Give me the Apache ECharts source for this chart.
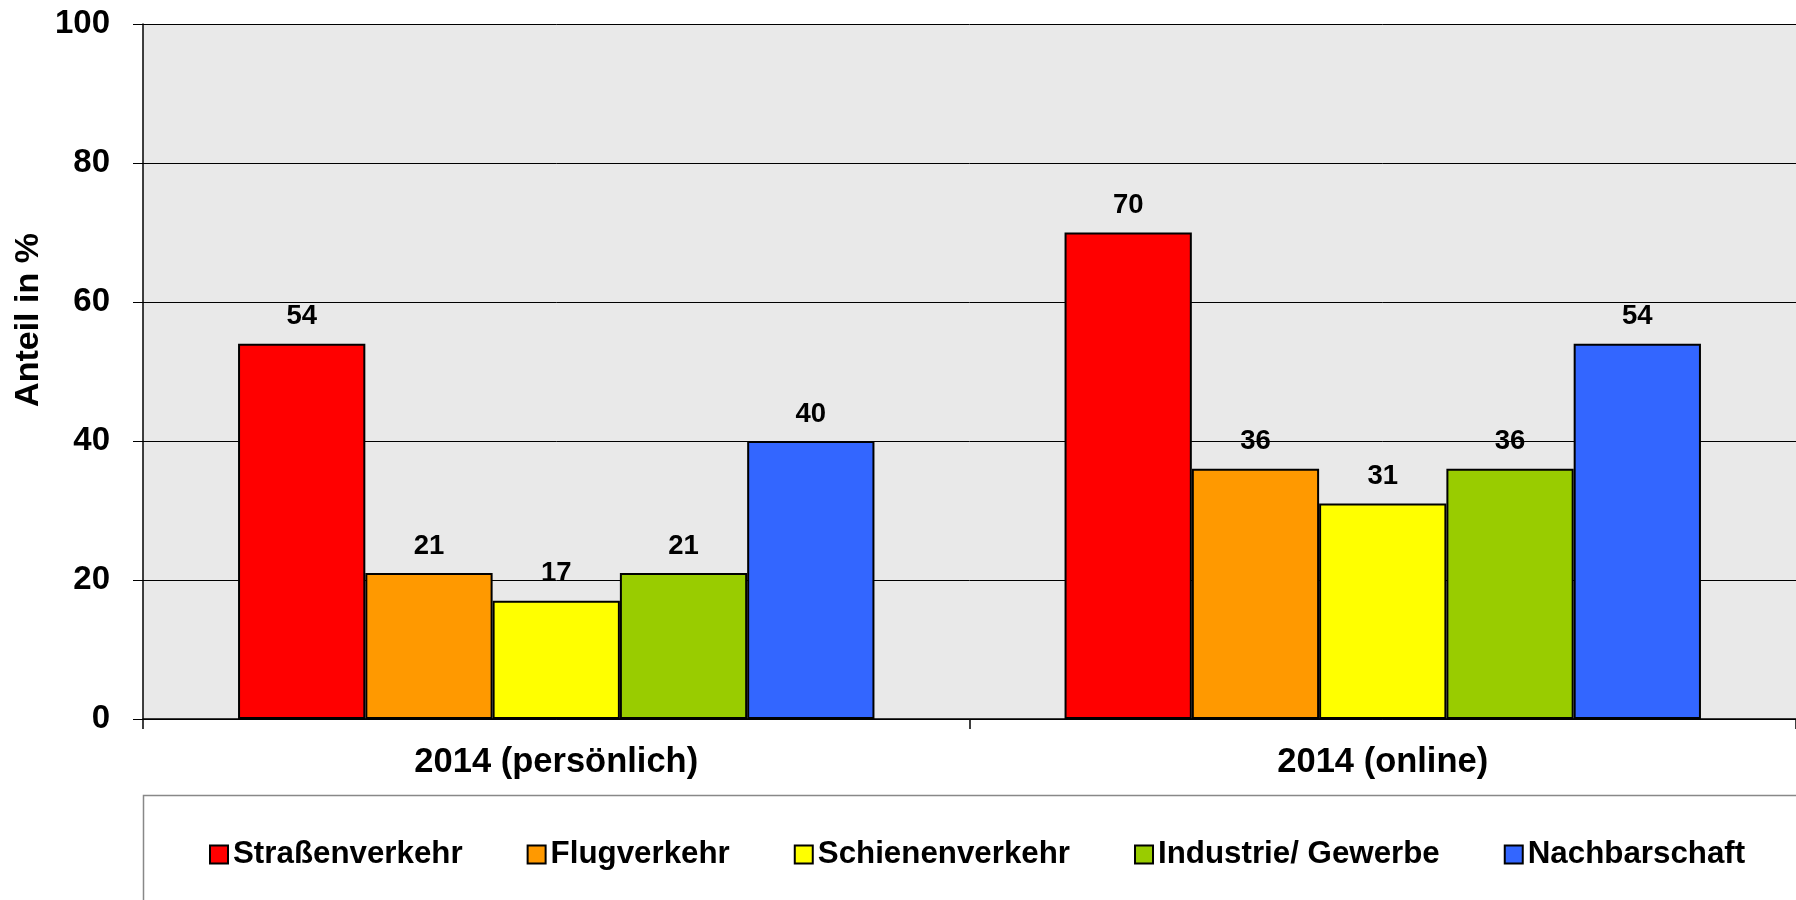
<!DOCTYPE html>
<html>
<head>
<meta charset="utf-8">
<script src="https://cdn.jsdelivr.net/npm/echarts@6/dist/echarts.min.js"></script>
<style>
html,body{margin:0;padding:0;background:#fff;}
#main{width:1796px;height:900px;}
</style>
</head>
<body>
<div id="main"></div>
<script>
const categories = ['2014 (persönlich)', '2014 (online)'];
const seriesNames = ['Straßenverkehr', 'Flugverkehr', 'Schienenverkehr', 'Industrie/ Gewerbe', 'Nachbarschaft'];
const strassen = [54, 70];
const flug = [21, 36];
const schiene = [17, 31];
const industrie = [21, 36];
const nachbar = [40, 54];
const yTicks = [0, 20, 40, 60, 80, 100];
const colors = ['#FF0000', '#FF9900', '#FFFF00', '#99CC00', '#3366FF'];
const FONT = '"Liberation Sans", Arial, Helvetica, sans-serif';

const allValues = [strassen, flug, schiene, industrie, nachbar];

const chart = echarts.init(document.getElementById('main'), null, {renderer: 'canvas'});

const series = seriesNames.map((name, i) => ({
  name: name,
  type: 'bar',
  data: allValues[i],
  barGap: '0%',
  barCategoryGap: '23%',
  itemStyle: { color: colors[i], borderColor: '#000', borderWidth: 2 },
  label: {
    show: true, position: 'top', distance: 13,
    color: '#000', fontFamily: FONT, fontWeight: 'bold', fontSize: 27.5
  },
  emphasis: { disabled: true }
}));

chart.setOption({
  animation: false,
  backgroundColor: '#fff',
  graphic: [
    {
      type: 'rect', z: -10,
      shape: { x: 143.5, y: 795.5, width: 1700, height: 200 },
      style: { fill: '#fff', stroke: '#888', lineWidth: 1.5 }
    },
    {
      type: 'text',
      x: 29, y: 320,
      rotation: Math.PI / 2,
      style: {
        text: 'Anteil in %',
        fill: '#000',
        font: 'bold 34px ' + FONT,
        align: 'center',
        verticalAlign: 'middle'
      }
    }
  ],
  grid: {
    left: 143, top: 24, right: 0, bottom: 181,
    show: true, backgroundColor: '#e9e9e9', borderWidth: 0
  },
  legend: {
    data: seriesNames,
    left: 204, top: 834,
    itemWidth: 18, itemHeight: 18, itemGap: 64,
    icon: 'rect',
    itemStyle: { borderColor: '#000', borderWidth: 2 },
    textStyle: { color: '#000', fontFamily: FONT, fontWeight: 'bold', fontSize: 31.3 }
  },
  xAxis: {
    type: 'category',
    data: categories,
    axisLine: { show: true, lineStyle: { color: '#000', width: 1.5 } },
    axisTick: { show: true, length: 10, lineStyle: { color: '#000', width: 1.5 } },
    axisLabel: { color: '#000', fontFamily: FONT, fontWeight: 'bold', fontSize: 34.5, margin: 26 },
    splitLine: { show: false }
  },
  yAxis: {
    type: 'value',
    min: yTicks[0], max: yTicks[yTicks.length - 1], interval: 20,
    axisLine: { show: true, lineStyle: { color: '#000', width: 1.5 } },
    axisTick: { show: true, length: 10, lineStyle: { color: '#000', width: 1 } },
    axisLabel: { color: '#000', fontFamily: FONT, fontWeight: 'bold', fontSize: 33, margin: 33 },
    splitLine: { show: true, lineStyle: { color: '#000', width: 1 } }
  },
  series: series
});
</script>
</body>
</html>
